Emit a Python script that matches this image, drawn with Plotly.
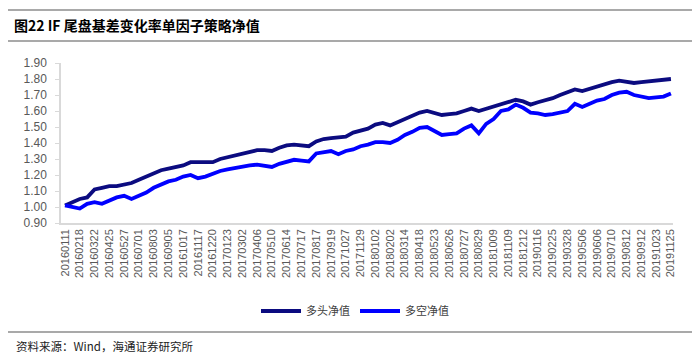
import numpy as np
import plotly.graph_objects as go

tick_labels = ["20160111","20160218","20160322","20160425","20160527","20160701","20160803",
               "20160905","20161017","20161117","20161220","20170123","20170302","20170406",
               "20170510","20170614","20170717","20170817","20170919","20171027","20171129",
               "20180102","20180202","20180314","20180418","20180523","20180626","20180727",
               "20180829","20181009","20181109","20181212","20190116","20190225","20190328",
               "20190506","20190606","20190710","20190812","20190912","20191023","20191125"]

long_nav = [1.01,1.03,1.05,1.06,1.11,1.12,1.13,1.13,1.14,1.15,1.17,1.19,1.21,1.23,1.24,1.25,
            1.26,1.28,1.28,1.28,1.28,1.30,1.31,1.32,1.33,1.34,1.355,1.355,1.35,1.37,1.385,
            1.39,1.385,1.38,1.41,1.425,1.43,1.435,1.44,1.465,1.48,1.49,1.515,1.525,1.51,1.53,
            1.555,1.575,1.59,1.60,1.585,1.575,1.58,1.585,1.60,1.615,1.60,1.615,1.63,1.645,
            1.66,1.67,1.66,1.64,1.655,1.665,1.68,1.70,1.72,1.735,1.725,1.74,1.755,1.77,1.78,
            1.79,1.785,1.775,1.78,1.785,1.785,1.79,1.80]

ls_nav = [1.01,1.00,0.99,1.02,1.03,1.02,1.04,1.06,1.07,1.05,1.07,1.09,1.12,1.14,1.16,1.17,
          1.19,1.20,1.18,1.19,1.21,1.225,1.235,1.245,1.25,1.26,1.265,1.255,1.25,1.27,1.285,
          1.295,1.29,1.285,1.335,1.345,1.35,1.33,1.35,1.36,1.38,1.39,1.405,1.405,1.40,1.42,
          1.45,1.47,1.495,1.50,1.475,1.45,1.455,1.46,1.49,1.51,1.46,1.52,1.55,1.60,1.61,
          1.64,1.62,1.59,1.585,1.575,1.58,1.59,1.60,1.645,1.625,1.645,1.665,1.675,1.70,
          1.715,1.72,1.70,1.69,1.68,1.685,1.69,1.71]

y_ticks = [0.90,1.00,1.10,1.20,1.30,1.40,1.50,1.60,1.70,1.80,1.90]

x = np.arange(len(long_nav)) / 2.0

W, H = 700, 355
ML, MR, MT, MB = 53, 35, 55, 140
pw, ph = W - ML - MR, H - MT - MB

def px(xp):
    return (xp - ML) / pw

def py(yp):
    return (H - MB - yp) / ph

fig = go.Figure()
fig.add_trace(go.Scatter(x=x, y=long_nav, mode="lines", name="多头净值",
                         line=dict(color="#0b0b80", width=3.8)))
fig.add_trace(go.Scatter(x=x, y=ls_nav, mode="lines", name="多空净值",
                         line=dict(color="#0000ff", width=3.8)))

gray = "#8c8c8c"
fig.update_layout(
    width=W, height=H,
    margin=dict(l=ML, r=MR, t=MT, b=MB),
    paper_bgcolor="white", plot_bgcolor="white",
    showlegend=True,
    legend=dict(orientation="h", x=px(347), xanchor="center", y=py(303), yanchor="middle",
                font=dict(family="Noto Sans CJK SC", size=11, color="#404040"),
                itemwidth=40, bgcolor="rgba(0,0,0,0)"),
    xaxis=dict(range=[-0.27, len(tick_labels) - 1 + 0.14],
               tickmode="array", tickvals=list(range(len(tick_labels))), ticktext=tick_labels,
               tickangle=-90, tickfont=dict(family="Liberation Sans", size=11, color="#595959"),
               showgrid=False, zeroline=False, showline=True, linecolor="#d9d9d9", linewidth=1.5,
               ticks=""),
    yaxis=dict(range=[0.9, 1.9], tickmode="array", tickvals=y_ticks,
               ticktext=[f"{v:.2f}" for v in y_ticks],
               tickfont=dict(family="Liberation Sans", size=12, color="#595959"),
               showgrid=False, zeroline=False, showline=True, linecolor="#d9d9d9", linewidth=1.5,
               ticks="outside", ticklen=4, tickcolor="#d9d9d9", ticklabelstandoff=6),
    annotations=[
        dict(text="<b>图22 IF 尾盘基差变化率单因子策略净值</b>", xref="paper", yref="paper",
             x=px(4), y=py(17), xanchor="left", yanchor="middle", showarrow=False,
             font=dict(family="Noto Sans CJK SC", size=14, color="#000000")),
        dict(text="资料来源：Wind，海通证券研究所", xref="paper", yref="paper",
             x=px(6), y=py(338), xanchor="left", yanchor="middle", showarrow=False,
             font=dict(family="Noto Sans CJK SC", size=11.5, color="#222222")),
    ],
    shapes=[
        dict(type="line", xref="paper", yref="paper", x0=px(0), x1=px(W), y0=py(2), y1=py(2),
             line=dict(color=gray, width=1.5)),
        dict(type="line", xref="paper", yref="paper", x0=px(0), x1=px(W), y0=py(33), y1=py(33),
             line=dict(color=gray, width=1.5)),
        dict(type="line", xref="paper", yref="paper", x0=px(0), x1=px(W), y0=py(324), y1=py(324),
             line=dict(color=gray, width=1.5)),
    ],
)

fig.write_html("out.html")
